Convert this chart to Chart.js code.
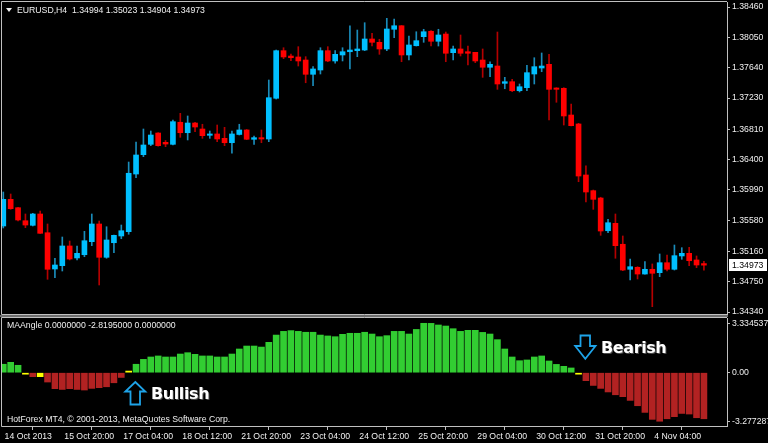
<!DOCTYPE html>
<html><head><meta charset="utf-8">
<script src="https://cdn.jsdelivr.net/npm/chart.js@4.4.0/dist/chart.umd.min.js"></script>
<style>
html,body{margin:0;padding:0;background:#000;width:768px;height:443px;overflow:hidden;}
#wrap{position:relative;width:768px;height:443px;background:#000;}
canvas{position:absolute;left:0;}
.t{position:absolute;color:#f0f0f0;font-family:"Liberation Sans",Arial,sans-serif;font-size:8.7px;line-height:10px;white-space:nowrap;}
.big{position:absolute;color:#fff;font-family:"DejaVu Sans",sans-serif;font-weight:bold;font-size:16px;line-height:16px;letter-spacing:-0.4px;white-space:nowrap;text-shadow:1px 1px 0 rgba(110,110,110,0.7);}
#sep{position:absolute;left:0;top:315px;width:728px;height:2px;background:#6e6e6e;}
#tri{position:absolute;left:6px;top:8px;width:0;height:0;border-left:3px solid transparent;border-right:3px solid transparent;border-top:4px solid #f0f0f0;}
svg{position:absolute;left:0;top:0;}
</style></head>
<body><div id="wrap">
<canvas id="main" width="768" height="320" style="top:0;width:768px;height:320px"></canvas>
<canvas id="ind" width="768" height="126" style="top:317px;width:768px;height:126px"></canvas>
<div id="sep"></div>
<div id="tri"></div>
<div class="t" style="left:17px;top:5px">EURUSD,H4&nbsp; 1.34994 1.35023 1.34904 1.34973</div>
<div class="t" style="left:7px;top:320px">MAAngle 0.0000000 -2.8195000 0.0000000</div>
<div class="t" style="left:7px;top:414px">HotForex MT4, © 2001-2013, MetaQuotes Software Corp.</div>
<div class="big" style="left:151px;top:386px">Bullish</div>
<div class="big" style="left:601px;top:340px">Bearish</div>
<svg width="768" height="443">
  <polygon points="135.3,382 145.3,391.5 140,391.5 140,404.5 130.5,404.5 130.5,391.5 125.3,391.5" fill="none" stroke="#1ea3e8" stroke-width="1.8"/>
  <polygon points="580.5,335.5 590,335.5 590,346 595.5,346 585.3,358.8 575.2,346 580.5,346" fill="none" stroke="#1ea3e8" stroke-width="1.8"/>
</svg>
</div>
<script>
// ---- price data (EURUSD H4), bar index 0..95 ----
const opens  = [1.35502,1.35862,1.35749,1.35573,1.35511,1.35664,1.35411,1.34921,1.34966,1.35232,
1.35070,1.35114,1.35290,1.35529,1.35079,1.35276,1.35367,1.35425,1.36204,1.36465,
1.36605,1.36758,1.36632,1.36605,1.36903,1.36762,1.36893,1.36812,1.36727,1.36745,
1.36686,1.36627,1.36738,1.36799,1.36673,1.36695,1.36677,1.37227,1.37870,1.37798,
1.37785,1.37744,1.37551,1.37609,1.37870,1.37731,1.37812,1.37856,1.37870,1.37879,
1.38028,1.37983,1.37893,1.38159,1.38207,1.37812,1.37937,1.38059,1.38132,1.37997,
1.38095,1.37843,1.37893,1.37856,1.37848,1.37744,1.37646,1.37663,1.37429,1.37451,
1.37329,1.37370,1.37555,1.37636,1.37686,1.37366,1.37362,1.37001,1.36880,1.36191,
1.35979,1.35880,1.35438,1.35538,1.35255,1.34917,1.34944,1.34853,1.34917,1.34871,
1.35006,1.34917,1.35097,1.35133,1.35043,1.34994];
const highs  = [1.35961,1.35934,1.35754,1.35664,1.35673,1.35704,1.35529,1.35066,1.35353,1.35299,
1.35232,1.35430,1.35664,1.35569,1.35492,1.35380,1.35515,1.36366,1.36637,1.36812,
1.36785,1.36762,1.36657,1.36934,1.37024,1.36988,1.36903,1.36876,1.36785,1.36866,
1.36835,1.36785,1.36876,1.36805,1.36717,1.36799,1.37474,1.37879,1.37910,1.37825,
1.37924,1.37789,1.37654,1.37910,1.37924,1.37870,1.37910,1.38207,1.38149,1.38248,
1.38105,1.38024,1.38307,1.38298,1.38210,1.38068,1.38126,1.38159,1.38140,1.38159,
1.38122,1.37933,1.38082,1.37933,1.37848,1.37893,1.37721,1.38122,1.37510,1.37483,
1.37420,1.37673,1.37775,1.37839,1.37821,1.37370,1.37370,1.37150,1.36889,1.36316,
1.35988,1.35890,1.35592,1.35664,1.35367,1.35056,1.34952,1.35020,1.34989,1.35124,
1.35110,1.35245,1.35209,1.35214,1.35097,1.35023];
const lows   = [1.35475,1.35727,1.35569,1.35479,1.35502,1.35400,1.34782,1.34803,1.34894,1.35043,
1.35043,1.35087,1.35236,1.34705,1.35066,1.35141,1.35330,1.35390,1.36154,1.36438,
1.36587,1.36580,1.36573,1.36596,1.36700,1.36664,1.36776,1.36686,1.36686,1.36641,
1.36587,1.36484,1.36731,1.36668,1.36605,1.36627,1.36641,1.37217,1.37762,1.37735,
1.37663,1.37437,1.37397,1.37555,1.37721,1.37700,1.37731,1.37623,1.37789,1.37870,
1.37933,1.37821,1.37870,1.38045,1.37721,1.37744,1.37933,1.37983,1.37933,1.37933,
1.37721,1.37744,1.37798,1.37677,1.37708,1.37510,1.37519,1.37348,1.37356,1.37316,
1.37312,1.37329,1.37420,1.37586,1.36934,1.37173,1.36866,1.36853,1.36100,1.35826,
1.35727,1.35376,1.35411,1.35066,1.34898,1.34772,1.34786,1.34850,1.34412,1.34817,
1.34894,1.34907,1.35052,1.34966,1.34939,1.34904];
const closes = [1.35862,1.35736,1.35583,1.35515,1.35664,1.35403,1.34917,1.34975,1.35232,1.35056,
1.35133,1.35303,1.35529,1.35079,1.35313,1.35376,1.35438,1.36214,1.36461,1.36596,
1.36731,1.36587,1.36609,1.36911,1.36762,1.36893,1.36839,1.36722,1.36745,1.36677,
1.36627,1.36745,1.36799,1.36673,1.36695,1.36677,1.37235,1.37870,1.37785,1.37775,
1.37731,1.37551,1.37623,1.37870,1.37731,1.37821,1.37856,1.37879,1.37893,1.38028,
1.37983,1.37893,1.38163,1.38207,1.37812,1.37947,1.38005,1.38126,1.37997,1.38082,
1.37835,1.37893,1.37835,1.37835,1.37731,1.37646,1.37686,1.37420,1.37451,1.37329,
1.37383,1.37573,1.37654,1.37663,1.37348,1.37348,1.36988,1.36857,1.36177,1.35961,
1.35862,1.35434,1.35546,1.35236,1.34907,1.34952,1.34853,1.34917,1.34863,1.35006,
1.34917,1.35101,1.35133,1.35033,1.34975,1.34973];

// ---- MA Angle indicator ----
const maAngle = [0.57,0.70,0.50,-0.03,-0.27,-0.27,-0.63,-1.08,-1.13,-1.08,
-1.13,-1.17,-1.06,-1.01,-0.95,-0.68,-0.32,0.11,0.57,0.90,
1.06,1.13,1.06,1.06,1.26,1.35,1.24,1.13,1.13,1.06,
1.06,1.26,1.60,1.80,1.80,1.73,2.05,2.54,2.79,2.84,
2.79,2.73,2.73,2.54,2.48,2.43,2.59,2.66,2.66,2.73,
2.61,2.43,2.50,2.79,2.79,2.61,2.92,3.334537,3.33,3.22,
3.15,2.97,2.79,2.86,2.86,2.72,2.61,2.23,1.60,1.06,
0.81,0.86,1.06,1.13,0.79,0.56,0.43,0.32,-0.03,-0.54,
-0.86,-1.06,-1.30,-1.49,-1.62,-1.87,-2.23,-2.68,-3.15,-3.277287,
-3.11,-2.97,-2.75,-2.79,-3.04,-3.11];
const maFlat = [3, 5, 17, 78];

// ---- axis ticks ----
const priceTicks = [1.38460,1.38050,1.37640,1.37230,1.36810,1.36400,1.35990,1.35580,1.35160,1.34750,1.34340];
const indTicks = [3.334537, 0, -3.277287];
const dateTickBars = [-0.1, 8, 16, 24, 32, 40, 48, 56, 64, 72, 80, 88];
const dateLabels = ['14 Oct 2013','15 Oct 20:00','17 Oct 04:00','18 Oct 12:00','21 Oct 20:00','23 Oct 04:00',
  '24 Oct 12:00','25 Oct 20:00','29 Oct 04:00','30 Oct 12:00','31 Oct 20:00','4 Nov 04:00'];

// ---- styles ----
const XMIN = -0.176, XMAX = 98.13;
const PMIN = 1.343131, PMAX = 1.385276;
const IMIN = -3.598, IMAX = 3.692;
const FONT = {family:'"Liberation Sans", Arial, sans-serif', size:8.7};
const TXT = '#f0f0f0', FRAME = '#c0c0c0';
const BULL = '#00bfff', BEAR = '#ff0000', BULLW = '#1a8cba', BEARW = '#b40000';
Chart.defaults.font.family = FONT.family;
Chart.defaults.font.size = FONT.size;
Chart.defaults.color = TXT;

const idx = closes.map((_, i) => i);
const isBull = idx.map(i => closes[i] >= opens[i]);

const framePlugin = {
  id: 'frame',
  afterDraw(chart) {
    const {ctx, chartArea: a} = chart;
    ctx.save();
    ctx.strokeStyle = FRAME; ctx.lineWidth = 1;
    ctx.beginPath();
    ctx.moveTo(a.right, a.top - 0.5);
    ctx.lineTo(a.left - 0.5, a.top - 0.5);
    ctx.lineTo(a.left - 0.5, a.bottom + 0.5);
    ctx.lineTo(a.right, a.bottom + 0.5);
    ctx.stroke();
    ctx.restore();
  }
};

const lastPricePlugin = {
  id: 'lastPrice',
  afterDraw(chart) {
    const ys = chart.scales.y, ctx = chart.ctx;
    const v = closes[closes.length - 1];
    const y = Math.round(ys.getPixelForValue(v));
    ctx.save();
    ctx.fillStyle = '#ffffff';
    ctx.fillRect(729, y - 6, 38, 12);
    ctx.fillStyle = '#000000';
    ctx.font = FONT.size + 'px ' + FONT.family;
    ctx.textBaseline = 'middle';
    ctx.textAlign = 'left';
    ctx.fillText(v.toFixed(5), 732, y + 0.5);
    ctx.restore();
  }
};

new Chart(document.getElementById('main'), {
  type: 'bar',
  data: {
    datasets: [
      { label: 'body', data: idx.map(i => ({x: i, y: [opens[i], closes[i]]})),
        backgroundColor: idx.map(i => isBull[i] ? BULL : BEAR),
        barThickness: 5, grouped: false, minBarLength: 1, borderWidth: 0 },
      { label: 'wick', data: idx.map(i => ({x: i, y: [lows[i], highs[i]]})),
        backgroundColor: idx.map(i => isBull[i] ? BULLW : BEARW),
        barThickness: 1, grouped: false, minBarLength: 1, borderWidth: 0 }
    ]
  },
  options: {
    responsive: false, animation: false, devicePixelRatio: 1,
    layout: {padding: {left: 2, top: 2, right: 0, bottom: 6}},
    plugins: {legend: {display: false}, tooltip: {enabled: false}},
    scales: {
      x: {type: 'linear', min: XMIN, max: XMAX, offset: false, display: false},
      y: {
        position: 'right', min: PMIN, max: PMAX,
        afterBuildTicks(s) { s.ticks = priceTicks.map(v => ({value: v})); },
        afterFit(s) { s.width = 41; s.paddingTop = 0; s.paddingBottom = 0; },
        ticks: {callback: v => Number(v).toFixed(5), color: TXT, font: FONT, padding: 2, autoSkip: false},
        grid: {drawOnChartArea: false, drawTicks: true, tickLength: 3, color: FRAME},
        border: {display: true, color: FRAME}
      }
    }
  },
  plugins: [framePlugin, lastPricePlugin]
});

new Chart(document.getElementById('ind'), {
  type: 'bar',
  data: {
    datasets: [{
      label: 'MAAngle', data: idx.map(i => ({x: i, y: maAngle[i]})),
      backgroundColor: idx.map(i => maFlat.includes(i) ? '#ffff00' : (maAngle[i] >= 0 ? '#32cd32' : '#b22222')),
      barThickness: 6, grouped: false, minBarLength: 1.5, borderWidth: 0
    }]
  },
  options: {
    responsive: false, animation: false, devicePixelRatio: 1,
    layout: {padding: {left: 2, top: 1, right: 0, bottom: 0}},
    plugins: {legend: {display: false}, tooltip: {enabled: false}},
    scales: {
      x: {
        type: 'linear', min: XMIN, max: XMAX, offset: false, position: 'bottom',
        afterBuildTicks(s) { s.ticks = dateTickBars.map(v => ({value: v})); },
        afterFit(s) { s.height = 17; s.paddingLeft = 0; s.paddingRight = 0; },
        ticks: {callback: (v, i) => dateLabels[i], align: 'start', labelOffset: 2, padding: 1,
                autoSkip: false, maxRotation: 0, color: TXT, font: FONT},
        grid: {drawOnChartArea: false, drawTicks: true, tickLength: 4,
               color: c => c.index === 0 ? 'rgba(0,0,0,0)' : FRAME},
        border: {display: true, color: FRAME}
      },
      y: {
        position: 'right', min: IMIN, max: IMAX,
        afterBuildTicks(s) { s.ticks = indTicks.map(v => ({value: v})); },
        afterFit(s) { s.width = 41; s.paddingTop = 0; s.paddingBottom = 0; },
        ticks: {callback: v => v === 0 ? '0.00' : String(v), color: TXT, font: FONT, padding: 2, autoSkip: false},
        grid: {drawOnChartArea: false, drawTicks: true, tickLength: 3, color: FRAME},
        border: {display: true, color: FRAME}
      }
    }
  },
  plugins: [framePlugin]
});
</script>
</body></html>
